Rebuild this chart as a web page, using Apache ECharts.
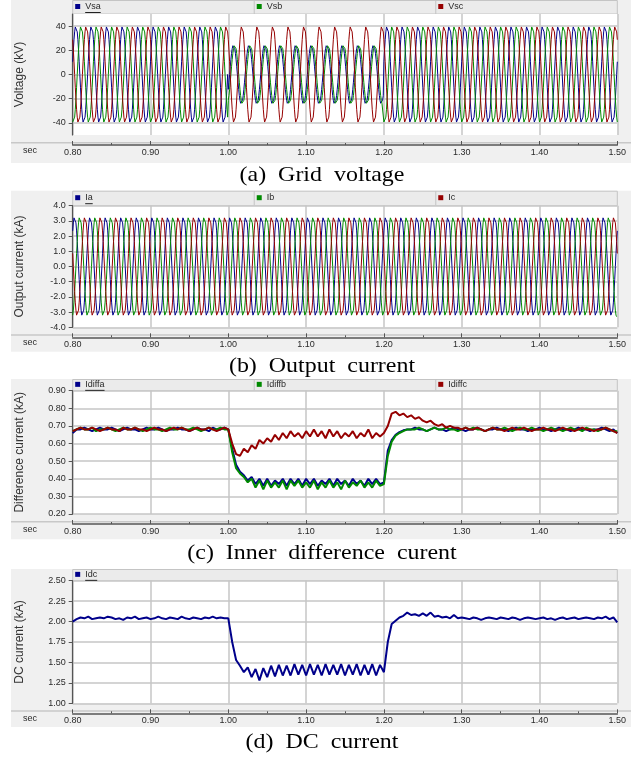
<!DOCTYPE html>
<html>
<head>
<meta charset="utf-8">
<script src="https://cdn.jsdelivr.net/npm/echarts@6/dist/echarts.min.js"></script>
<style>
  html, body { margin: 0; padding: 0; background: #fff; }
  #chart { width: 644px; height: 758px; }
</style>
</head>
<body>
<div id="chart"></div>
<script>
// ---- data ----
const timeMin = 0.8
const timeMax = 1.5
const segEnds = [1.0, 1.2, 1.5]        // pre-fault / fault / post-fault

// one 50 Hz cycle, 24 samples (per unit)
const cycleShape = [0, 0.26, 0.5, 0.71, 0.87, 0.97, 1, 0.97, 0.87, 0.71, 0.5, 0.26,
  0, -0.26, -0.5, -0.71, -0.87, -0.97, -1, -0.97, -0.87, -0.71, -0.5, -0.26]
const cycleTime = 0.02

// peak values per interval and phase position (in samples) per interval
const vsaAmp = [40.5, 24.5, 40.5]
const vsbAmp = [40.5, 24.5, 40.5]
const vscAmp = [40.5, 40.5, 40.5]
const vsaShift = [1, 22, 1]
const vsbShift = [17, 20, 17]
const vscShift = [9, 9, 9]

const iaAmp = [3.3, 3.3, 3.3]
const ibAmp = [3.3, 3.3, 3.3]
const icAmp = [3.3, 3.3, 3.3]
const iaShift = [3, 3, 3]
const ibShift = [19, 19, 19]
const icShift = [11, 11, 11]

// slow traces, one value every 5 ms from 0.80 s to 1.50 s
const slowStep = 0.005
const idiffa = [
  0.66,0.68,0.68,0.69,0.68,0.67,0.68,0.69,0.68,0.68, 0.69,0.68,0.67,0.68,0.69,0.68,0.68,0.67,0.68,0.69,
  0.68,0.68,0.69,0.68,0.67,0.68,0.68,0.69,0.68,0.68, 0.67,0.68,0.69,0.68,0.68,0.67,0.69,0.68,0.68,0.69,
  0.68,0.57,0.48,0.44,0.42,0.39,0.41,0.37,0.40,0.36, 0.40,0.36,0.39,0.37,0.40,0.36,0.40,0.37,0.40,0.36,
  0.40,0.37,0.40,0.36,0.39,0.37,0.40,0.36,0.40,0.37, 0.39,0.36,0.40,0.37,0.39,0.36,0.40,0.37,0.40,0.37,
  0.38,0.56,0.62,0.65,0.665,0.675,0.68,
  0.68,0.69,0.68,0.68,0.67,0.68,0.69,0.68,0.68,0.67, 0.68,0.69,0.68,0.68,0.67,0.68,0.68,0.69,0.68,0.67,
  0.68,0.68,0.69,0.68,0.68,0.67,0.68,0.69,0.68,0.68, 0.67,0.68,0.68,0.69,0.68,0.68,0.67,0.68,0.69,0.68,
  0.68,0.67,0.68,0.69,0.68,0.68,0.67,0.68,0.68,0.69, 0.68,0.67,0.68,0.66
]
const idiffb = [
  0.67,0.68,0.69,0.68,0.68,0.69,0.67,0.68,0.68,0.69, 0.68,0.67,0.68,0.69,0.68,0.68,0.69,0.68,0.67,0.68,
  0.69,0.68,0.68,0.67,0.68,0.69,0.68,0.68,0.69,0.68, 0.68,0.69,0.68,0.67,0.68,0.69,0.68,0.68,0.69,0.68,
  0.68,0.55,0.46,0.43,0.41,0.38,0.40,0.35,0.39,0.34, 0.39,0.35,0.38,0.35,0.39,0.34,0.39,0.36,0.39,0.35,
  0.38,0.35,0.39,0.34,0.38,0.35,0.39,0.35,0.38,0.34, 0.39,0.35,0.38,0.36,0.39,0.35,0.38,0.35,0.39,0.36,
  0.37,0.53,0.61,0.645,0.66,0.67,0.68,
  0.68,0.68,0.69,0.68,0.67,0.68,0.69,0.68,0.68,0.69, 0.68,0.68,0.67,0.68,0.69,0.68,0.69,0.68,0.68,0.67,
  0.68,0.69,0.68,0.68,0.69,0.68,0.67,0.68,0.69,0.68, 0.68,0.69,0.68,0.68,0.67,0.68,0.69,0.68,0.68,0.67,
  0.68,0.69,0.68,0.68,0.67,0.69,0.68,0.68,0.67,0.68, 0.69,0.68,0.67,0.67
]
const idiffc = [
  0.67,0.68,0.69,0.68,0.68,0.69,0.68,0.67,0.68,0.69, 0.68,0.68,0.67,0.69,0.68,0.68,0.69,0.68,0.68,0.67,
  0.68,0.69,0.68,0.68,0.67,0.68,0.69,0.68,0.69,0.68, 0.67,0.68,0.69,0.68,0.68,0.69,0.68,0.67,0.68,0.69,
  0.68,0.60,0.54,0.53,0.57,0.55,0.59,0.57,0.62,0.60, 0.63,0.61,0.65,0.62,0.66,0.63,0.67,0.64,0.66,0.63,
  0.67,0.64,0.68,0.64,0.67,0.63,0.68,0.64,0.67,0.63, 0.66,0.64,0.67,0.63,0.66,0.64,0.68,0.63,0.66,0.64,
  0.66,0.70,0.77,0.78,0.76,0.77,0.75,0.76,0.74,0.75, 0.73,0.72,0.73,0.71,0.70,0.71,0.69,0.70,0.69,0.69,
  0.68,
  0.69,0.68,0.68,0.69,0.68,0.67,0.68,0.69,0.68,0.68, 0.67,0.68,0.69,0.68,0.68,0.69,0.68,0.67,0.68,0.68,
  0.69,0.68,0.68,0.67,0.68,0.69,0.68,0.68,0.67,0.68, 0.69,0.68,0.68,0.67,0.68,0.68,0.69,0.68,0.67,0.66
]
const idc = [
  2.00,2.03,2.05,2.04,2.06,2.03,2.04,2.05,2.04,2.06, 2.05,2.03,2.04,2.02,2.05,2.04,2.06,2.03,2.04,2.05,
  2.03,2.04,2.06,2.04,2.03,2.05,2.04,2.03,2.06,2.04, 2.03,2.05,2.04,2.03,2.05,2.04,2.06,2.04,2.05,2.04,
  2.04,1.75,1.53,1.46,1.38,1.44,1.32,1.42,1.28,1.43, 1.32,1.46,1.33,1.47,1.34,1.46,1.34,1.48,1.35,1.47,
  1.34,1.48,1.35,1.47,1.34,1.48,1.35,1.47,1.35,1.48, 1.34,1.47,1.35,1.48,1.34,1.47,1.35,1.48,1.34,1.47,
  1.38,1.75,1.97,2.01,2.05,2.07,2.11,2.08,2.09,2.07, 2.10,2.07,2.11,2.06,2.07,2.05,2.06,2.04,2.08,2.04,
  2.05,
  2.04,2.03,2.05,2.04,2.02,2.04,2.05,2.04,2.03,2.05, 2.04,2.03,2.05,2.04,2.02,2.04,2.05,2.04,2.03,2.04,
  2.05,2.03,2.04,2.02,2.04,2.05,2.03,2.04,2.05,2.03, 2.04,2.05,2.04,2.03,2.05,2.04,2.06,2.03,2.05,1.99
]

const captions = ['(a)  Grid  voltage', '(b)  Output  current', '(c)  Inner  difference  curent', '(d)  DC  current']
const yNames = ['Voltage (kV)', 'Output current (kA)', 'Difference current (kA)', 'DC current (kA)']
const blue = '#00008b', green = '#008a00', red = '#960000'

// ---- build traces ----
function acTrace(amp, shift) {
  const n = cycleShape.length
  const step = cycleTime / n
  const total = Math.round((timeMax - timeMin) / step)
  const bounds = segEnds.map(e => Math.round((e - timeMin) / step))
  const out = []
  for (let i = 0; i <= total; i++) {
    const seg = i < bounds[0] ? 0 : i < bounds[1] ? 1 : 2
    const k = ((i + shift[seg]) % n + n) % n
    out.push([timeMin + i * step, amp[seg] * cycleShape[k]])
  }
  return out
}
function slowTrace(vals) {
  return vals.map((v, i) => [timeMin + i * slowStep, v])
}

// ---- layout of the four panes ----
const panes = [
  { top: 0,     plotTop: 14,    plotBottom: 135,   bottom: 163,   caption: 175 },
  { top: 190.7, plotTop: 205.7, plotBottom: 327.3, bottom: 351.7, caption: 366.7 },
  { top: 379,   plotTop: 390.7, plotBottom: 514,   bottom: 539.3, caption: 553.3 },
  { top: 569,   plotTop: 580.7, plotBottom: 703.3, bottom: 727,   caption: 742.3 }
]
const plotLeft = 72.7, plotRight = 617.3
const frameLeft = 11, frameRight = 631

const paneSeries = [
  [['Vsa', acTrace(vsaAmp, vsaShift), blue, 1], ['Vsb', acTrace(vsbAmp, vsbShift), green, 1], ['Vsc', acTrace(vscAmp, vscShift), red, 1]],
  [['Ia', acTrace(iaAmp, iaShift), blue, 1], ['Ib', acTrace(ibAmp, ibShift), green, 1], ['Ic', acTrace(icAmp, icShift), red, 1]],
  [['Idiffa', slowTrace(idiffa), blue, 2], ['Idiffb', slowTrace(idiffb), green, 2], ['Idiffc', slowTrace(idiffc), red, 2]],
  [['Idc', slowTrace(idc), blue, 2]]
]

const yRanges = [
  { min: -50, max: 50, custom: [-40, -20, 0, 20, 40], digits: 0 },
  { min: -4, max: 4, interval: 1, digits: 1 },
  { min: 0.2, max: 0.9, interval: 0.1, digits: 2 },
  { min: 1, max: 2.5, interval: 0.25, digits: 2 }
]

const axisColor = '#555'
const gridColor = '#c6c6c6'
const textColor = '#2a2a2a'
const font = 'Liberation Sans'

const measure = document.createElement('canvas').getContext('2d')
measure.font = '9px ' + font

const grids = [], xAxes = [], yAxes = [], series = [], legends = [], graphics = []
const cell = (plotRight - plotLeft) / 3

panes.forEach((p, k) => {
  grids.push({ left: plotLeft, top: p.plotTop, width: plotRight - plotLeft, height: p.plotBottom - p.plotTop, show: false })
  xAxes.push({
    type: 'value', gridIndex: k, min: timeMin, max: timeMax, interval: 0.1, offset: 10,
    axisLine: { onZero: false, lineStyle: { color: axisColor, width: 1.5 } },
    axisTick: { inside: true, length: 4, lineStyle: { color: axisColor } },
    minorTick: { show: true, splitNumber: 2, length: 2, lineStyle: { color: axisColor } },
    splitLine: { show: true, lineStyle: { color: gridColor, width: 1.5 } },
    axisLabel: { margin: 3, fontSize: 9, fontFamily: font, color: textColor, formatter: v => v.toFixed(2) }
  })
  const r = yRanges[k]
  const yAxis = {
    type: 'value', gridIndex: k, min: r.min, max: r.max,
    name: yNames[k], nameLocation: 'middle', nameGap: 47,
    nameTextStyle: { fontSize: 12, fontFamily: font, color: '#333' },
    axisLine: { show: true, onZero: false, lineStyle: { color: axisColor, width: 1.2 } },
    axisTick: { show: true, length: 4, lineStyle: { color: axisColor } },
    splitLine: { show: true, lineStyle: { color: gridColor, width: 1.5 } },
    axisLabel: { margin: 7, fontSize: 9, fontFamily: font, color: textColor, formatter: v => v.toFixed(r.digits) }
  }
  if (r.custom) {
    yAxis.axisTick.customValues = r.custom
    yAxis.axisLabel.customValues = r.custom
  } else {
    yAxis.interval = r.interval
  }
  yAxes.push(yAxis)

  // frame, legend strip, plot background, separator
  graphics.push({ type: 'rect', z: -20, shape: { x: frameLeft, y: p.top, width: frameRight - frameLeft, height: p.bottom - p.top }, style: { fill: '#f0f0f0' } })
  graphics.push({ type: 'rect', z: -19, shape: { x: plotLeft, y: p.top + 0.5, width: plotRight - plotLeft, height: p.plotTop - p.top - 0.5 }, style: { fill: '#ebebeb', stroke: '#c4c4c4', lineWidth: 1 } })
  if (paneSeries[k].length > 1) {
    for (let j = 1; j < 3; j++) {
      graphics.push({ type: 'line', z: -18, shape: { x1: plotLeft + cell * j, y1: p.top + 0.5, x2: plotLeft + cell * j, y2: p.plotTop }, style: { stroke: '#c4c4c4', lineWidth: 1 } })
    }
  }
  graphics.push({ type: 'rect', z: -18, shape: { x: plotLeft, y: p.plotTop, width: plotRight - plotLeft, height: p.plotBottom - p.plotTop }, style: { fill: '#fff' } })
  graphics.push({ type: 'rect', z: -18, shape: { x: frameLeft, y: p.plotBottom + 7, width: frameRight - frameLeft, height: 1.5 }, style: { fill: '#c8c8c8' } })
  graphics.push({ type: 'text', z: 5, style: { x: 30, y: p.plotBottom + 15.5, text: 'sec', fontSize: 9, fontFamily: font, fill: textColor, align: 'center', verticalAlign: 'middle' } })
  graphics.push({
    type: 'text', z: 5, x: 322, y: p.caption, scaleX: 1.14,
    style: { x: 0, y: 0, text: captions[k], fontSize: 21, fontFamily: 'Liberation Serif', fill: '#000', align: 'center', verticalAlign: 'middle' }
  })

  const midY = (p.top + p.plotTop) / 2
  paneSeries[k].forEach(([name, data, color, width], j) => {
    series.push({
      name, type: 'line', xAxisIndex: k, yAxisIndex: k, data,
      showSymbol: false, color, lineStyle: { width, color }, z: 2 + j
    })
    legends.push({
      data: [name], left: plotLeft + 2.5 + cell * j, top: midY - 5, padding: 0,
      icon: 'rect', itemWidth: 5, itemHeight: 5,
      textStyle: { fontSize: 9, fontFamily: font, color: textColor }
    })
  })
  // selected-trace underline under the first legend entry
  const first = paneSeries[k][0][0]
  const tx = plotLeft + 2.5 + 5 + 5
  graphics.push({ type: 'line', z: 5, shape: { x1: tx, y1: midY + 5.5, x2: tx + measure.measureText(first).width, y2: midY + 5.5 }, style: { stroke: '#222', lineWidth: 1 } })
})

const chart = echarts.init(document.getElementById('chart'))
chart.setOption({
  backgroundColor: '#fff',
  animation: false,
  grid: grids,
  xAxis: xAxes,
  yAxis: yAxes,
  legend: legends,
  graphic: { elements: graphics },
  series
})
window.addEventListener('resize', () => chart.resize())
</script>
</body>
</html>
